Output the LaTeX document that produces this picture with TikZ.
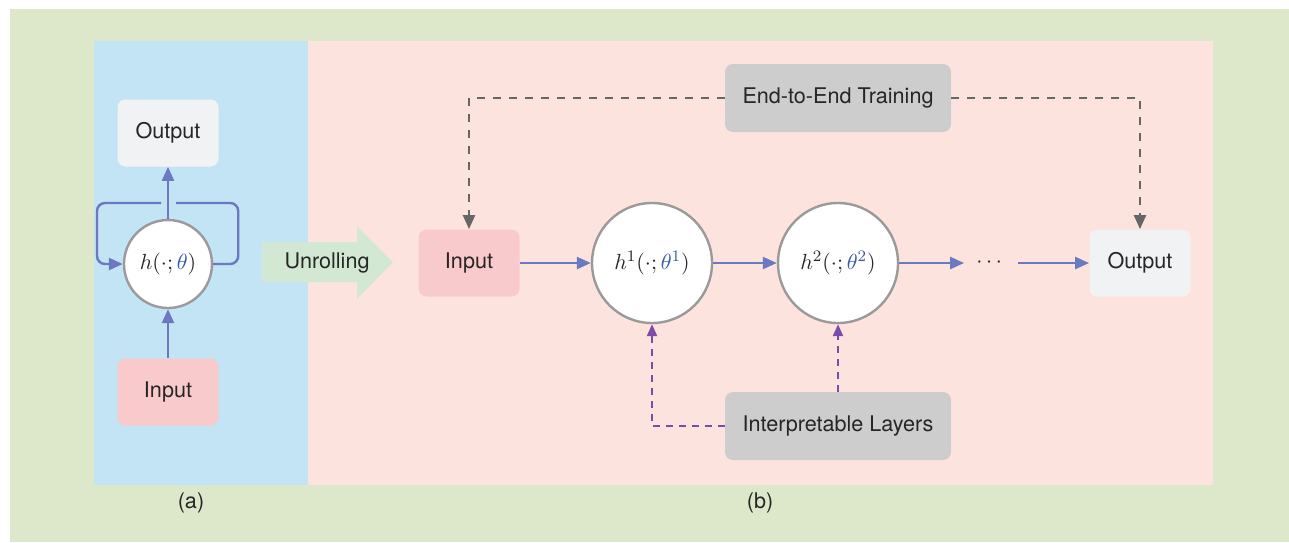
\documentclass[tikz,border=0pt]{standalone}
\usepackage{amsmath}
\usepackage{fontspec}
\setmainfont{TeX Gyre Heros}
\usepackage{tikz}
\usetikzlibrary{arrows.meta,positioning}

\definecolor{framegreen}{HTML}{DDE8CA}
\definecolor{panelblue}{HTML}{C2E4F5}
\definecolor{panelpink}{HTML}{FDE3DD}
\definecolor{inpink}{HTML}{F8CACC}
\definecolor{outgray}{HTML}{F1F2F4}
\definecolor{boxgray}{HTML}{CDCDCD}
\definecolor{ringgray}{HTML}{9A9A9A}
\definecolor{flowblue}{HTML}{6A79C1}
\definecolor{dashgray}{HTML}{666666}
\definecolor{dashpurple}{HTML}{7D4CA9}
\definecolor{thetablue}{HTML}{3A5BAA}
\definecolor{unrollgreen}{HTML}{D2E8D3}

\begin{document}
\begin{tikzpicture}[x=0.5pt,y=-0.5pt,
  every node/.style={font=\fontsize{10.8}{12}\selectfont, text=black!85},
  box/.style={rounded corners=4pt, minimum width=50.5pt, minimum height=33.5pt},
  inbox/.style={box, fill=inpink},
  outbox/.style={box, fill=outgray},
  notebox/.style={box, fill=boxgray, minimum width=113pt, minimum height=34pt},
  layer/.style={circle, draw=ringgray, line width=1.2pt, fill=white, inner sep=0pt},
  flow/.style={draw=flowblue, line width=1.2pt, -{Triangle[length=7pt,width=6pt]}},
  flowline/.style={draw=flowblue, line width=1.2pt},
  traindash/.style={draw=dashgray, line width=1.2pt, dash pattern=on 4pt off 4pt, -{Triangle[length=7pt,width=6pt]}},
  layerdash/.style={draw=dashpurple, line width=1.1pt, dash pattern=on 3.5pt off 3pt, -{Triangle[length=6pt,width=5pt]}}
]
\useasboundingbox (0,0) rectangle (1289,542);
% backgrounds
\fill[white] (0,0) rectangle (1289,542);
\fill[framegreen] (10,9) rectangle (1289,542);
\fill[panelblue] (94,41) rectangle (308,485);
\fill[panelpink] (308,41) rectangle (1213,485);

% (a) recurrent form
\node[outbox] (out1) at (168,133) {Output};
\node[layer, minimum size=44pt] (cell) at (168,264) {$h(\cdot;\textcolor{thetablue}{\theta})$};
\node[inbox] (in1) at (168,392) {Input};
\draw[flow] (in1) -- (cell);
\draw[flow] (cell) -- (out1);
\draw[flowline, rounded corners=4pt] (cell.east) -- ++(25,0) |- ++(-62,-61);
\draw[flow, rounded corners=4pt] (161,203) -| ++(-64,61) -- (cell.west);

% unrolling arrow
\fill[unrollgreen] (262,242) -- (357,242) -- (357,226) -- (393,262) -- (357,299) -- (357,282) -- (262,282) -- cycle;
\node (unroll) at (327,263) {Unrolling};

% (b) unrolled network
\node[inbox] (in2) at (469,263) {Input};
\node[layer, minimum size=60pt] (h1) at (652,263) {$h^1(\cdot;\textcolor{thetablue}{\theta^1})$};
\node[layer, minimum size=60pt] (h2) at (838,263) {$h^2(\cdot;\textcolor{thetablue}{\theta^2})$};
\node[minimum width=26.5pt, inner sep=0pt] (dots) at (991,263) {$\cdots$};
\node[outbox] (out2) at (1140,263) {Output};
\draw[flow] (in2) -- (h1);
\draw[flow] (h1) -- (h2);
\draw[flow] (h2) -- (dots);
\draw[flow] (dots) -- (out2);

\node[notebox] (train) at (838,98) {End-to-End Training};
\draw[traindash] (train.west) -| (in2.north);
\draw[traindash] (train.east) -| (out2.north);

\node[notebox] (layers) at (838,426) {Interpretable Layers};
\draw[layerdash] (layers.west) -| (h1.south);
\draw[layerdash] (layers.north) -- (h2.south);

% captions
\node (capa) at (191,503) {(a)};
\node (capb) at (760,503) {(b)};
\end{tikzpicture}
\end{document}
